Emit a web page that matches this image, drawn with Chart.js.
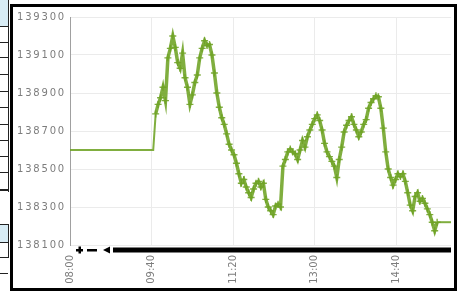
<!DOCTYPE html>
<html>
<head>
<meta charset="utf-8">
<script src="https://cdn.jsdelivr.net/npm/chart.js@4/dist/chart.umd.min.js"></script>
<style>
    html, body { margin: 0; padding: 0; background: #fff; }
    body { width: 461px; height: 293px; position: relative; overflow: hidden; font-family: "DejaVu Sans", sans-serif; }
    .side { position: absolute; left: 0; width: 8px; border-bottom: 1px solid #222; }
    .side.blue { background: #d8ecf5; }
    .vline { position: absolute; left: 8px; width: 1px; background: #222; }
    #frame { position: absolute; left: 10px; top: 4px; width: 441px; height: 281px; border: 3px solid #000; background: #fff; }
    #frame canvas { display: block; }
</style>
</head>
<body>
<div class="side blue" style="top:0;height:26px"></div>
<div class="side" style="top:27px;height:15px"></div>
<div class="side" style="top:43px;height:14px"></div>
<div class="side" style="top:58px;height:16px"></div>
<div class="side" style="top:75px;height:16px"></div>
<div class="side" style="top:92px;height:15px"></div>
<div class="side" style="top:108px;height:16px"></div>
<div class="side" style="top:125px;height:15px"></div>
<div class="side" style="top:141px;height:15px"></div>
<div class="side" style="top:157px;height:15px"></div>
<div class="side" style="top:173px;height:16px;border-bottom-width:2px"></div>
<div class="side blue" style="top:224px;height:17px;border-top:1px solid #222"></div>
<div class="side" style="top:242px;height:15px"></div>
<div class="side" style="top:258px;height:15px"></div>
<div class="vline" style="top:0;height:192px"></div>
<div class="vline" style="top:224px;height:34px"></div>
<div id="frame"><canvas id="grafik" width="441" height="281"></canvas></div>

<script>
// pre-market flat line
const preTimes = ['08:00', '09:42'];
const preValues = [138600, 138600];

// session (3 minute samples)
const sessionTimes = [
    '09:45', '09:48', '09:51', '09:54', '09:57',
    '10:00', '10:03', '10:06', '10:09', '10:12', '10:15', '10:18', '10:21', '10:24', '10:27',
    '10:30', '10:33', '10:36', '10:39', '10:42', '10:45', '10:48', '10:51', '10:54', '10:57',
    '11:00', '11:03', '11:06', '11:09', '11:12', '11:15', '11:18', '11:21', '11:24', '11:27',
    '11:30', '11:33', '11:36', '11:39', '11:42', '11:45', '11:48', '11:51', '11:54', '11:57',
    '12:00', '12:03', '12:06', '12:09', '12:12', '12:15', '12:18', '12:21', '12:24', '12:27',
    '12:30', '12:33', '12:36', '12:39', '12:42', '12:45', '12:48', '12:51', '12:54', '12:57',
    '13:00', '13:03', '13:06', '13:09', '13:12', '13:15', '13:18', '13:21', '13:24', '13:27',
    '13:30', '13:33', '13:36', '13:39', '13:42', '13:45', '13:48', '13:51', '13:54', '13:57',
    '14:00', '14:03', '14:06', '14:09', '14:12', '14:15', '14:18', '14:21', '14:24', '14:27',
    '14:30', '14:33', '14:36', '14:39', '14:42', '14:45', '14:48', '14:51', '14:54', '14:57',
    '15:00', '15:03', '15:06', '15:09', '15:12', '15:15', '15:18', '15:21', '15:24', '15:27', '15:30'
];
const sessionValues = [
    138790, 138840, 138875, 138930, 138860,
    139085, 139135, 139200, 139140, 139060, 139030, 139110, 138980, 138930, 138840,
    138890, 138955, 138995, 139085, 139135, 139175, 139150, 139155, 139100, 139005,
    138900, 138825, 138770, 138735, 138685, 138630, 138600, 138575, 138530, 138475,
    138425, 138445, 138405, 138375, 138350, 138395, 138425, 138435, 138405, 138425,
    138340, 138300, 138280, 138260, 138305, 138315, 138300, 138515, 138550, 138590,
    138605, 138590, 138580, 138550, 138600, 138650, 138615, 138670, 138705, 138735,
    138765, 138785, 138755, 138705, 138635, 138590, 138565, 138540, 138515, 138455,
    138550, 138615, 138695, 138730, 138755, 138775, 138735, 138705, 138670, 138695,
    138735, 138760, 138820, 138850, 138870, 138885, 138880, 138820, 138715, 138590,
    138500, 138455, 138415, 138445, 138475, 138460, 138475, 138435, 138375, 138310,
    138280, 138355, 138375, 138330, 138345, 138320, 138290, 138260, 138220, 138175, 138220
];

// after close flat line
const postTimes = ['15:47'];
const postValues = [138220];

const tickLabels = ['08:00', '09:40', '11:20', '13:00', '14:40'];
const yTicks = [138100, 138300, 138500, 138700, 138900, 139100, 139300];

const toMinutes = t => {
    const [h, m] = t.split(':').map(Number);
    return h * 60 + m;
};
const toLabel = v => {
    const h = Math.floor(v / 60), m = v % 60;
    return String(h).padStart(2, '0') + ':' + String(m).padStart(2, '0');
};

const points = []
    .concat(preTimes.map((t, i) => ({ x: toMinutes(t), y: preValues[i], marker: false })))
    .concat(sessionTimes.map((t, i) => ({ x: toMinutes(t), y: sessionValues[i], marker: true })))
    .concat(postTimes.map((t, i) => ({ x: toMinutes(t), y: postValues[i], marker: false })));

const lineColor = 'rgba(110, 163, 36, 0.88)';
const labelColor = '#7d7d7d';
const gridColor = '#ebebeb';

// black bar under the plot (range bar with + - < controls)
const rangeBar = {
    id: 'rangeBar',
    afterDraw(chart) {
        const { ctx, chartArea } = chart;
        const { left, right, bottom } = chartArea;
        const y = bottom + 5;
        ctx.save();
        ctx.fillStyle = '#000';
        // plus
        ctx.fillRect(left + 6, y - 1, 7, 2.5);
        ctx.fillRect(left + 8.5, y - 3.5, 2.5, 7);
        // dash
        ctx.fillRect(left + 17, y - 1, 10, 2.5);
        // arrow
        ctx.beginPath();
        ctx.moveTo(left + 33, y);
        ctx.lineTo(left + 40, y - 3.5);
        ctx.lineTo(left + 40, y + 3.5);
        ctx.closePath();
        ctx.fill();
        // bar
        ctx.fillRect(left + 43, y - 2.5, right - left - 43, 5);
        ctx.restore();
    }
};

// y labels are drawn a bit wider in the original
const spacedLabels = {
    id: 'spacedLabels',
    beforeDraw(chart) {
        const s = chart.scales.y;
        if (s._spaced) return;
        const orig = s.drawLabels;
        s.drawLabels = function (area) {
            this.ctx.save();
            this.ctx.letterSpacing = '1.8px';
            orig.call(this, area);
            this.ctx.restore();
        };
        s._spaced = true;
    }
};

new Chart(document.getElementById('grafik'), {
    type: 'line',
    data: {
        datasets: [{
            label: 'Harga',
            data: points,
            borderColor: lineColor,
            backgroundColor: lineColor,
            borderWidth: 3.5,
            segment: {
                // flat parts outside the session are thinner
                borderWidth: ctx => (points[ctx.p0DataIndex].marker && points[ctx.p1DataIndex].marker ? 3.5 : 2)
            },
            pointStyle: 'cross',
            pointRadius: ctx => (ctx.raw && ctx.raw.marker ? 3.5 : 0),
            pointBorderWidth: 1.4,
            pointBorderColor: lineColor,
            tension: 0
        }]
    },
    options: {
        responsive: false,
        animation: false,
        parsing: { xAxisKey: 'x', yAxisKey: 'y' },
        layout: { padding: { top: 6, right: 3, left: 0, bottom: 0 } },
        plugins: {
            legend: { display: false },
            tooltip: { enabled: false }
        },
        scales: {
            x: {
                type: 'linear',
                min: toMinutes('08:00'),
                max: toMinutes('15:47'),
                afterBuildTicks: s => { s.ticks = tickLabels.map(t => ({ value: toMinutes(t) })); },
                afterFit: s => { s.height = 43; },
                grid: {
                    color: ctx => (ctx.index === 0 ? 'rgba(0,0,0,0)' : gridColor),
                    drawTicks: false
                },
                border: { display: false },
                ticks: {
                    autoSkip: false,
                    minRotation: 90,
                    maxRotation: 90,
                    padding: 10,
                    color: labelColor,
                    font: { family: 'DejaVu Sans', size: 10 },
                    callback: v => toLabel(v)
                }
            },
            y: {
                min: yTicks[0],
                max: yTicks[yTicks.length - 1],
                afterBuildTicks: s => { s.ticks = yTicks.map(v => ({ value: v })); },
                afterFit: s => { s.width = 57; },
                grid: { color: gridColor, drawTicks: false },
                border: { display: true, color: '#a0a0a0', width: 1 },
                ticks: {
                    padding: 4,
                    color: labelColor,
                    font: { family: 'DejaVu Sans', size: 10 },
                    callback: v => String(v)
                }
            }
        }
    },
    plugins: [rangeBar, spacedLabels]
});
</script>
</body>
</html>
